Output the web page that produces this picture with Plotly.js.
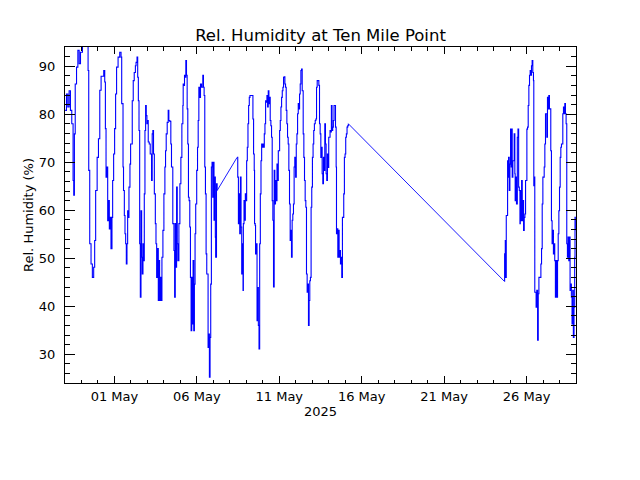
<!DOCTYPE html>
<html><head><meta charset="utf-8">
<script src="https://cdn.plot.ly/plotly-3.0.1.min.js"></script>
<style>html,body{margin:0;padding:0;background:#fff}#chart{width:640px;height:480px}</style>
</head><body><div id="chart"></div>
<script>
// Observation start and end of the displayed period
const startDate = '2025-04-28';
const endDate = '2025-05-29';

// Time of each observation, in days since startDate (00:00)
const daysSinceStart = [
0.01,0.09,0.17,0.25,0.33,0.41,0.49,0.53,0.57,0.62,0.70,0.78,0.86,0.94,1.06,1.18,1.34,1.40,1.44,1.50,
1.58,1.66,1.74,1.80,1.86,1.95,2.03,2.11,2.19,2.31,2.35,2.41,2.45,2.49,2.53,2.59,2.65,2.69,2.75,2.79,
2.85,2.89,2.95,3.01,3.07,3.13,3.22,3.32,3.40,3.44,3.52,3.55,3.60,3.64,
3.68,3.72,3.76,3.80,3.84,3.88,3.94,3.98,4.08,4.14,4.20,4.27,4.31,4.37,4.41,4.45,4.49,4.53,4.57,4.61,
4.65,4.69,4.73,4.77,4.81,4.85,4.89,4.93,4.97,5.01,5.05,5.11,5.17,5.21,5.25,5.29,5.33,5.37,5.42,5.48,
5.52,5.56,5.62,5.66,5.70,5.74,5.78,5.84,5.88,5.94,6.00,6.06,6.10,6.14,6.20,6.26,6.30,6.36,6.42,6.46,
6.50,6.54,6.61,6.65,6.69,6.73,6.77,6.81,6.85,6.91,6.97,7.03,7.09,7.15,
7.17,7.21,7.25,7.29,7.33,7.37,7.41,7.45,7.49,7.53,7.57,7.61,7.65,7.69,7.73,7.77,7.81,7.85,7.89,7.93,
7.99,8.04,8.08,8.12,8.16,8.22,8.28,8.36,8.40,8.44,8.48,8.52,8.56,8.60,8.64,8.68,8.72,8.76,8.80,8.84,
8.88,8.92,8.96,9.00,9.04,9.08,9.12,9.14,9.19,9.23,
10.44,10.48,10.52,10.56,10.60,10.64,10.68,10.72,10.76,10.80,
10.82,10.86,10.90,10.94,10.98,11.02,11.06,11.10,11.14,11.18,11.22,11.34,11.40,11.44,11.48,11.50,11.54,11.56,11.61,11.65,
11.69,11.73,11.77,11.81,11.85,11.89,11.93,11.97,12.01,12.05,12.09,12.13,12.17,12.21,12.25,12.29,12.33,12.37,12.41,12.45,
12.49,12.53,12.57,12.61,12.65,12.69,12.73,12.77,12.82,12.86,12.90,12.94,12.98,13.02,13.06,13.10,13.14,13.18,13.22,13.26,
13.30,13.34,13.38,13.42,13.46,13.50,13.54,13.58,13.62,13.66,13.70,13.74,13.78,13.82,13.86,13.90,13.94,13.99,14.03,14.07,
14.11,14.15,14.19,14.23,14.27,14.31,14.35,14.39,
14.45,14.49,14.53,14.57,14.61,14.65,14.69,14.73,14.77,14.81,14.85,14.89,14.93,14.97,15.01,15.05,15.09,15.13,15.18,15.22,
15.26,15.30,15.36,15.40,15.44,15.48,15.52,15.56,15.60,15.64,15.68,15.72,15.76,15.80,15.84,15.88,15.92,15.96,16.00,16.04,
16.08,16.12,16.16,16.20,16.24,16.28,16.32,16.36,16.41,16.45,16.47,16.51,16.55,16.59,16.63,16.67,16.71,16.75,16.79,16.83,
16.87,16.91,16.95,16.99,17.03,17.07,17.11,17.15,17.19,
26.65,26.67,26.69,26.71,26.75,26.77,26.81,26.85,26.89,26.91,26.95,26.99,27.03,27.07,27.09,27.13,27.17,27.21,27.25,27.29,
27.31,27.35,27.39,27.44,27.48,27.52,27.56,27.60,27.62,27.66,27.70,27.74,27.78,27.82,27.86,27.90,27.94,27.98,28.02,28.06,
28.10,28.14,28.18,28.22,28.26,28.30,28.34,28.38,28.42,28.44,28.48,28.50,28.54,28.58,28.62,28.67,28.71,28.75,28.79,28.83,
28.87,28.91,28.95,28.99,29.03,29.07,29.11,29.15,29.19,29.23,29.27,29.31,29.35,29.39,29.43,29.47,29.51,29.55,29.59,29.63,
29.67,29.71,29.75,29.79,29.84,29.88,29.92,29.96,30.00,30.04,30.08,30.12,30.16,30.20,30.24,30.28,30.32,30.36,30.40,30.44,
30.48,30.52,30.56,30.60,30.64,30.68,30.72,30.76,30.80,30.84,30.88,30.92,30.94,30.96
];

// Relative humidity (%) at each observation
const relHumidity = [
80.8,84.2,81.5,84.9,80.8,78.0,66.2,63.1,75.9,86.3,89.8,93.3,90.5,92.9,94.3,95,95,89.1,68.3,53.0,
48.8,46.0,48.1,53.7,64.1,71.0,74.9,85.0,87.9,87.9,89.1,86.7,77.0,66.9,69.0,57.8,62.0,56.1,58.5,52.0,
58.5,66.2,71.7,77.0,84.2,89.8,91.9,92.9,91.9,82.2,69.0,64.1,58.9,55.1,
53.0,48.8,53.0,59.9,58.5,64.8,69.6,73.8,82.8,87.0,88.7,90.1,90.8,91.9,87.7,82.8,76.6,53.0,41.9,59.9,
50.2,46.7,53.0,49.5,63.4,76.6,81.8,79.7,78.0,78.7,74.2,73.8,71.7,71.7,66.2,75.9,76.6,71.7,63.4,57.2,
53.0,46.0,52.0,41.2,49.5,41.2,46.0,41.2,50.2,55.8,63.4,69.0,72.4,75.9,78.3,80.8,78.7,78.5,73.8,69.0,
69.0,57.2,51.6,41.9,57.2,48.1,64.8,53.0,49.5,57.2,65.5,71.0,78.0,81.8,
86.3,86.0,88.1,87.7,91.2,88.1,81.1,73.8,62.7,62.0,56.5,46.0,34.9,46.0,36.3,49.5,34.9,44.6,55.1,61.3,
68.3,73.1,78.7,85.6,83.5,86.3,85.6,88.1,85.6,83.9,69.0,63.4,50.9,46.7,46.7,31.4,34.2,25.2,33.5,44.6,
69.0,70.0,62.7,70.0,57.9,66.9,54.4,50.2,65.5,64.1,
71.0,66.9,57.2,63.4,55.1,66.9,56.5,46.7,53.0,43.3,
57.2,62.0,57.9,63.4,62.0,70.3,73.1,78.0,81.8,83.5,83.9,83.9,79.0,71.7,68.3,57.2,56.8,50.9,53.0,37.0,
43.9,36.0,31.1,53.0,63.4,70.3,73.8,73.1,73.8,73.1,75.9,78.0,82.8,82.5,83.9,81.5,84.9,82.2,83.5,78.7,
77.6,75.2,62.0,57.9,44.0,68.3,61.3,66.2,62.0,69.6,66.2,72.4,72.4,76.6,78.7,81.5,83.5,84.9,85.6,87.7,
87.8,86.3,85.6,80.8,78.0,75.2,73.8,68.3,61.3,53.7,55.8,50.2,57.9,59.2,61.3,69.0,71.0,66.9,73.8,75.9,
80.1,82.2,81.1,84.2,86.3,89.1,89.4,84.9,
75.9,71.0,66.2,62.0,60.6,46.7,42.9,44.6,36.0,41.2,45.3,46.0,60.6,64.8,71.0,73.8,76.6,78.0,78.7,79.0,
85.6,87.0,87.0,86.0,78.0,75.9,71.0,73.1,67.6,65.5,71.0,68.3,78.0,73.8,67.6,66.2,71.7,68.9,75.2,75.2,
76.6,76.3,81.8,76.6,77.3,78.7,81.8,81.8,77.3,69.0,55.1,56.1,50.2,55.8,50.2,51.6,48.8,50.2,46.0,58.5,
58.5,63.4,71.0,71.7,75.2,75.9,77.3,77.6,78.0,
45.2,50.9,46.0,53.7,46.0,58.9,58.9,70.3,66.9,71.0,64.1,69.6,76.9,69.0,76.9,66.9,70.3,70.3,75.9,67.6,
62.0,66.9,61.3,75.2,76.9,64.8,64.1,57.2,64.1,57.8,66.2,57.8,62.0,55.8,58.5,59.2,66.2,66.2,76.9,77.3,
81.8,86.0,88.1,89.1,88.1,90.1,91.2,88.7,87.0,65.1,66.9,42.9,42.9,39.8,43.3,32.9,42.6,46.0,46.0,46.0,
48.8,52.0,61.3,66.9,66.9,69.0,73.8,80.1,80.1,75.2,83.5,81.1,83.9,81.1,81.1,72.4,57.8,53.0,55.8,50.9,
53.0,49.5,41.9,49.5,41.9,49.5,55.1,59.9,64.8,71.0,73.1,73.8,73.8,80.1,81.5,80.1,82.2,80.1,78.0,53.0,
50.2,54.4,49.5,54.4,43.3,44.6,41.9,36.3,43.3,33.5,39.8,50.2,58.5,55.8
];

// Axis ticks and labels
const xTickDates = ['2025-05-01','2025-05-06','2025-05-11','2025-05-16','2025-05-21','2025-05-26'];
const xTickLabels = ['01 May','06 May','11 May','16 May','21 May','26 May'];
const yTickVals = [30,40,50,60,70,80,90];
const yTickLabels = ['30','40','50','60','70','80','90'];
const yRange = [24, 94];

const startMs = Date.parse(startDate + 'T00:00:00Z');
const times = daysSinceStart.map(d => startMs + d * 86400000);

// Continuous stretches drawn as steps; missing-data gaps bridged with straight lines
const segTraces = [];
const gapX = [], gapY = [];
let segX = [times[0]], segY = [relHumidity[0]];
for (let i = 1; i < times.length; i++) {
  if (daysSinceStart[i] - daysSinceStart[i - 1] > 0.5) {
    segTraces.push({x: segX, y: segY});
    gapX.push(times[i - 1], times[i], null);
    gapY.push(relHumidity[i - 1], relHumidity[i], null);
    segX = []; segY = [];
  }
  segX.push(times[i]); segY.push(relHumidity[i]);
}
segTraces.push({x: segX, y: segY});

const traces = segTraces.map(s => ({
  type: 'scatter', mode: 'lines', x: s.x, y: s.y,
  line: {color: '#0000ff', width: 1.1, shape: 'hv'}, hoverinfo: 'skip'
}));
traces.push({
  type: 'scatter', mode: 'lines', x: gapX, y: gapY, connectgaps: false,
  line: {color: '#0000ff', width: 0.9}, hoverinfo: 'skip'
});

const axisCommon = {
  showline: true, linecolor: '#000', linewidth: 1, mirror: 'allticks',
  ticks: 'inside', tickcolor: '#000', tickwidth: 1,
  showgrid: false, zeroline: false,
  tickfont: {family: 'DejaVu Sans, sans-serif', size: 13, color: '#000'}
};

const layout = {
  width: 640, height: 480,
  margin: {l: 65, r: 64, t: 47, b: 97, pad: 0},
  paper_bgcolor: '#fff', plot_bgcolor: '#fff',
  showlegend: false,
  font: {family: 'DejaVu Sans, sans-serif', size: 13, color: '#000'},
  title: {text: 'Rel. Humidity at Ten Mile Point', font: {size: 16.5, color: '#000'},
          x: 0.5, xanchor: 'center', xref: 'paper', y: 1 - 35 / 480, yref: 'container', yanchor: 'middle'},
  xaxis: Object.assign({}, axisCommon, {
    type: 'date', range: [startDate, endDate],
    tickmode: 'array', tickvals: xTickDates, ticktext: xTickLabels,
    ticklen: 7, ticklabelstandoff: 1,
    minor: {dtick: 86400000, tick0: startDate, ticks: 'inside', ticklen: 3.5, tickcolor: '#000', tickwidth: 1, showgrid: false},
    title: {text: '2025', font: {size: 13, color: '#000'}, standoff: 4}
  }),
  yaxis: Object.assign({}, axisCommon, {
    range: yRange, tickmode: 'array', tickvals: yTickVals, ticktext: yTickLabels,
    ticklen: 10, ticklabelstandoff: 6,
    minor: {dtick: 2, tick0: 0, ticks: 'inside', ticklen: 5, tickcolor: '#000', tickwidth: 1, showgrid: false},
    title: {text: 'Rel. Humidity (%)', font: {size: 13, color: '#000'}, standoff: 2}
  })
};

Plotly.newPlot('chart', traces, layout, {displayModeBar: false, staticPlot: true});
</script>
</body></html>
